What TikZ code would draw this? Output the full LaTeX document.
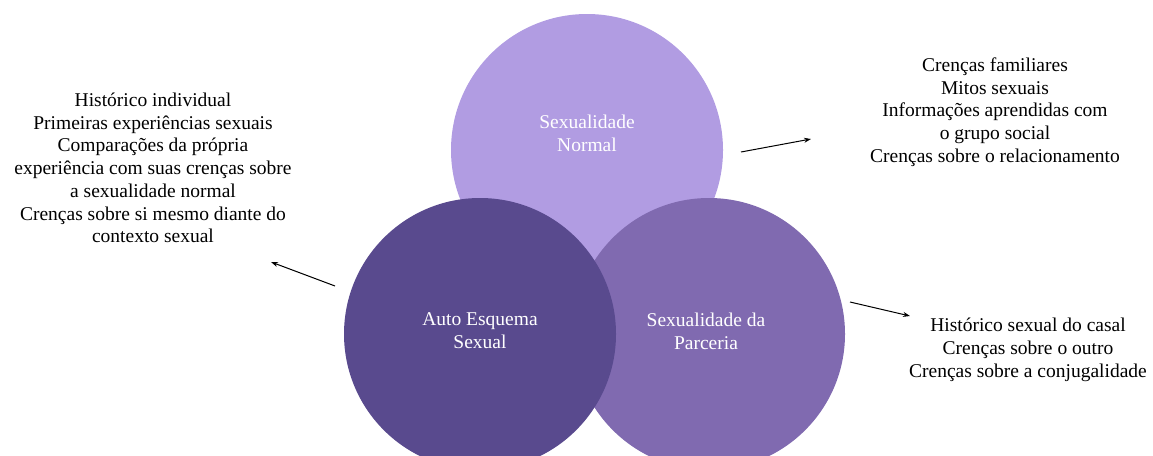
\documentclass[tikz,border=0pt]{standalone}
\usepackage{fontspec}
\setmainfont{Liberation Serif}
\usetikzlibrary{arrows.meta}
\definecolor{cTop}{RGB}{177,156,226}
\definecolor{cLeft}{RGB}{89,74,142}
\definecolor{cRight}{RGB}{128,106,176}
\begin{document}
\begin{tikzpicture}[x=1pt,y=-1pt,
  circ/.style={circle,minimum size=272pt,inner sep=0pt,draw=none},
  clabel/.style={text=white,align=center,font=\fontsize{19.5}{23}\selectfont},
  side/.style={text=black,align=center,font=\fontsize{19.5}{22.7}\selectfont},
  arr/.style={-{Stealth[length=7pt,width=5pt]},line width=1pt,black}]
\useasboundingbox (0,0) rectangle (1153,455);
\node[circ,fill=cTop] (top) at (587,150) {};
\node[circ,fill=cRight] (right) at (709,334) {};
\node[circ,fill=cLeft] (left) at (480,334) {};
\node[clabel] (ltop) at (587,133) {Sexualidade\\Normal};
\node[clabel] (lleft) at (480,331) {Auto Esquema\\Sexual};
\node[clabel] (lright) at (706,331) {Sexualidade da\\Parceria};
\node[side] (tleft) at (153,168) {Histórico individual\\Primeiras experiências sexuais\\Comparações da própria\\experiência com suas crenças sobre\\a sexualidade normal\\Crenças sobre si mesmo diante do\\contexto sexual};
\node[side] (tright) at (995,112) {Crenças familiares\\Mitos sexuais\\Informações aprendidas com\\o grupo social\\Crenças sobre o relacionamento};
\node[side] (tbr) at (1028,350) {Histórico sexual do casal\\Crenças sobre o outro\\Crenças sobre a conjugalidade};
\coordinate (a1s) at (741,152);
\coordinate (a1e) at (811,139);
\coordinate (a2s) at (335,286);
\coordinate (a2e) at (271,262);
\coordinate (a3s) at (850,302);
\coordinate (a3e) at (910,316);
\draw[arr] (a1s) -- (a1e);
\draw[arr] (a2s) -- (a2e);
\draw[arr] (a3s) -- (a3e);
\end{tikzpicture}
\end{document}
